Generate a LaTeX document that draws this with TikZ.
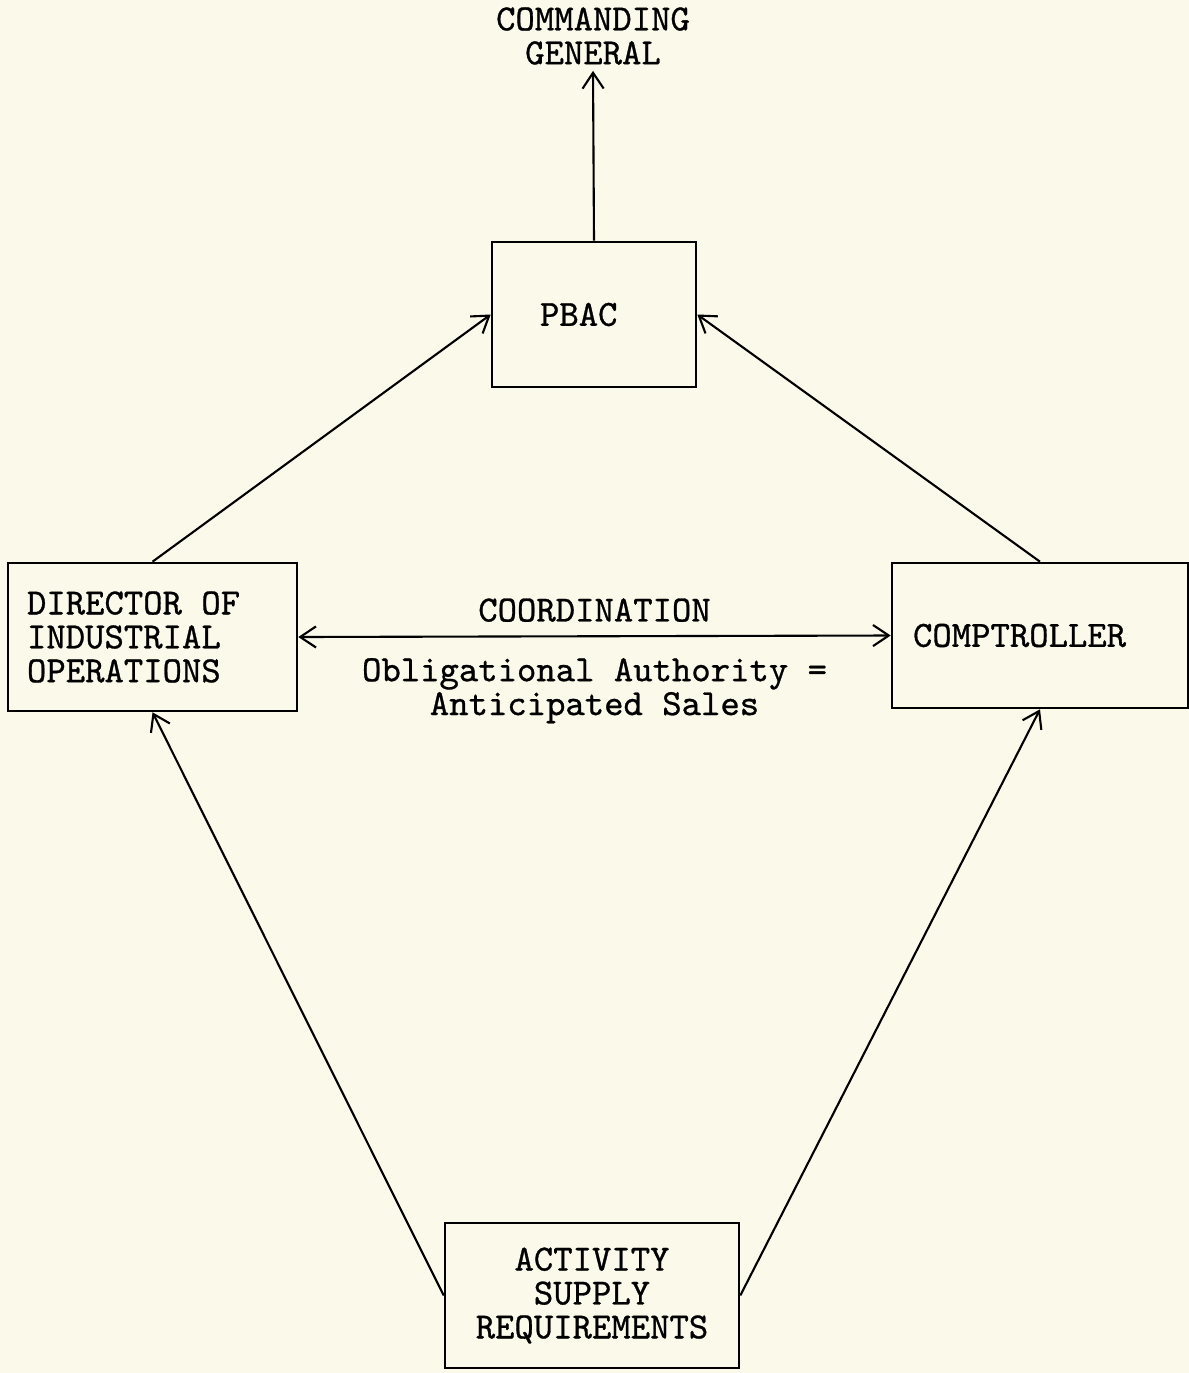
\documentclass[tikz,border=0pt]{standalone}
\usepackage{fontspec}
\setmonofont{lmmono10-regular.otf}[FakeBold=0.8]
\usetikzlibrary{shapes,arrows.meta}
\definecolor{paper}{RGB}{251,249,233}
\tikzstyle{block} = [rectangle, draw, line width=1.5pt, minimum height=2.9cm]
\tikzstyle{line} = [draw, line width=1.2pt, -{Straight Barb[length=9pt,width=12pt]}]
\tikzstyle{twoway} = [draw, line width=1.2pt, {Straight Barb[length=9pt,width=12pt]}-{Straight Barb[length=9pt,width=12pt]}]

\begin{document}
\begin{tikzpicture}[x=0.02cm, y=-0.02cm, font=\ttfamily\fontsize{21}{19.3}\selectfont]
    \path [use as bounding box, fill=paper] (0,0) rectangle (1189,1373);
    % Place nodes
    \node [align=center] (general) at (593,36) {COMMANDING\\GENERAL};
    \node [block, minimum width=4.08cm, text width=2.16cm, align=flush left] (pbac) at (594,314.5) {PBAC};
    \node [block, minimum width=5.78cm, minimum height=2.96cm, text width=5.02cm, align=flush left] (director) at (152.5,637) {DIRECTOR OF\\INDUSTRIAL\\OPERATIONS};
    \node [block, minimum width=5.92cm, text width=5.08cm, align=flush left] (comptroller) at (1040,635.5) {COMPTROLLER};
    \node [block, minimum width=5.88cm, text width=5cm, align=center] (supply) at (592,1295.5) {ACTIVITY\\SUPPLY\\REQUIREMENTS};
    % Draw edges
    \path [line] (pbac.north) -- (general.south);
    \path [line] (director.north) -- (pbac.west);
    \path [line] (comptroller.north) -- (pbac.east);
    \path [twoway] (director.east) -- (comptroller.west)
        node [midway, above=0.15cm] {COORDINATION}
        node [midway, below=0.3cm, align=center] {Obligational Authority =\\Anticipated Sales};
    \path [line] (supply.west) -- (director.south);
    \path [line] (supply.east) -- (comptroller.south);
\end{tikzpicture}
\end{document}
